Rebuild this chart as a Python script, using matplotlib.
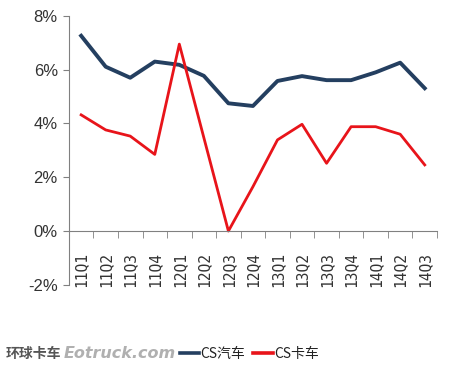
import matplotlib.pyplot as plt
import numpy as np
from matplotlib.ticker import FuncFormatter, FixedLocator

# data
quarters = ["11Q1", "11Q2", "11Q3", "11Q4", "12Q1", "12Q2", "12Q3", "12Q4",
            "13Q1", "13Q2", "13Q3", "13Q4", "14Q1", "14Q2", "14Q3"]
cs_auto = [7.26, 6.11, 5.70, 6.30, 6.18, 5.77, 4.75, 4.65,
           5.58, 5.76, 5.61, 5.61, 5.90, 6.26, 5.31]
cs_truck = [4.32, 3.76, 3.53, 2.85, 6.95, 3.47, 0.0, 1.65,
            3.39, 3.97, 2.52, 3.88, 3.88, 3.60, 2.46]
yticks = [-2, 0, 2, 4, 6, 8]

cjk = ["Noto Sans CJK SC", "DejaVu Sans"]

fig = plt.figure(figsize=(4.75, 3.69), dpi=100)
ax = fig.add_axes([0.145, 0.228, 0.775, 0.729])

x = np.arange(len(quarters))
ax.plot(x, cs_auto, color="#243f60", lw=2.8, solid_joinstyle="round")
ax.plot(x, cs_truck, color="#e8141a", lw=2.0, solid_joinstyle="round")

ax.set_xlim(-0.5, len(quarters) - 0.5)
ax.set_ylim(-2, 8)

for s in ["top", "right"]:
    ax.spines[s].set_visible(False)
ax.spines["bottom"].set_position(("data", 0))
ax.spines["bottom"].set_color("#808080")
ax.spines["left"].set_color("#808080")

ax.set_yticks(yticks)
ax.yaxis.set_major_formatter(FuncFormatter(lambda v, p: "%d%%" % v))
ax.tick_params(axis="y", length=4, color="#808080", labelsize=12, pad=4,
               labelcolor="#333333", labelfontfamily="Liberation Sans")

ax.set_xticks(x)
ax.set_xticklabels(quarters, rotation=90, family="DejaVu Sans Mono",
                   fontsize=10.5, color="#333333", va="top")
ax.tick_params(axis="x", which="major", length=0, pad=15)
ax.xaxis.set_minor_locator(FixedLocator(np.arange(-0.5, len(quarters), 1)))
ax.tick_params(axis="x", which="minor", length=5, color="#808080", direction="out")

# watermark + legend along the bottom
fig.text(0.012, 0.042, "环球卡车", family=cjk, fontsize=10, fontweight="bold",
         fontstyle="italic", color="#555555", va="center")
fig.text(0.135, 0.042, "Eotruck.com", family="DejaVu Sans", fontsize=11.5,
         fontweight="bold", fontstyle="italic", color="#b0b0b0", va="center")
fig.add_artist(plt.Line2D([0.378, 0.418], [0.044, 0.044], color="#243f60", lw=2.6))
fig.text(0.421, 0.042, "CS汽车", family=cjk, fontsize=10, color="#222222", va="center")
fig.add_artist(plt.Line2D([0.532, 0.575], [0.044, 0.044], color="#e8141a", lw=2.6))
fig.text(0.578, 0.042, "CS卡车", family=cjk, fontsize=10, color="#222222", va="center")

fig.savefig("out.png", dpi=100)
